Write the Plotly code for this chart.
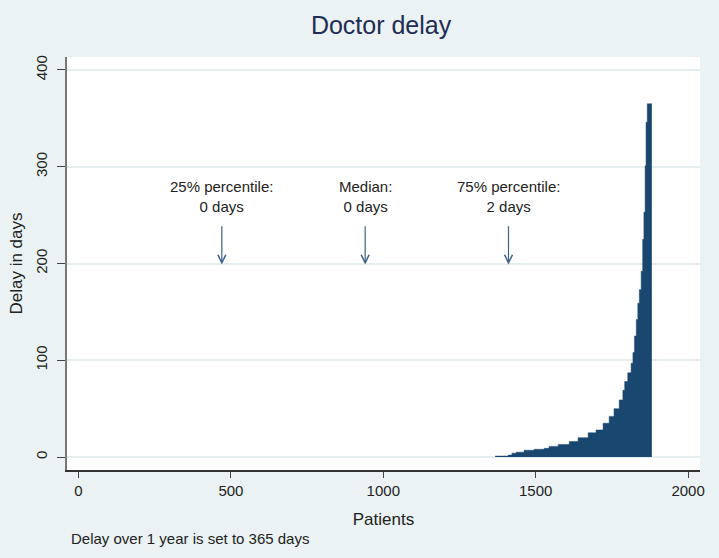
import plotly.graph_objects as go

# Sorted doctor delay per patient, stored as steps: patient index where a delay level starts
patient_from = [1367, 1410, 1422, 1436, 1462, 1495, 1528, 1544, 1574, 1610,
                1639, 1672, 1698, 1721, 1741, 1757, 1774, 1786, 1792, 1802,
                1813, 1819, 1824, 1830, 1835, 1840, 1846, 1851, 1855, 1859,
                1862, 1866]
delay_days = [1, 2, 4, 5, 7, 8, 9, 11, 13, 16,
              20, 25, 28, 35, 42, 50, 59, 69, 78, 87,
              97, 108, 125, 142, 159, 173, 192, 225, 253, 301,
              346, 365]
n_patients = 1881

quartiles = [0.25, 0.50, 0.75]
quartile_labels = ["25% percentile:<br>0 days", "Median:<br>0 days", "75% percentile:<br>2 days"]

x_ticks = [0, 500, 1000, 1500, 2000]
y_ticks = [0, 100, 200, 300, 400]

NAVY = "#1A476F"
BG = "#EAF2F3"
FONT = "Liberation Sans, Arial, sans-serif"

fig = go.Figure()

# step area; close the last step at the final patient
fig.add_trace(
    go.Scatter(
        x=patient_from + [n_patients],
        y=delay_days + [delay_days[-1]],
        mode="lines",
        line=dict(shape="hv", color=NAVY, width=0.5),
        fill="tozeroy",
        fillcolor=NAVY,
        showlegend=False,
        hoverinfo="skip",
    )
)

# percentile labels with arrows
for q, lab in zip(quartiles, quartile_labels):
    xq = q * n_patients
    fig.add_annotation(
        x=xq, y=269, xref="x", yref="y", text=lab, showarrow=False,
        font=dict(family=FONT, size=15, color="#222222"),
        align="center", yanchor="middle",
    )
    fig.add_annotation(
        x=xq, y=199, ax=xq, ay=240, xref="x", yref="y", axref="x", ayref="y",
        text="", showarrow=True, arrowhead=5, arrowsize=1.3, arrowwidth=1.2,
        arrowcolor="#3E6089",
    )

fig.add_annotation(
    x=0.003, y=-0.165, xref="paper", yref="paper", xanchor="left", yanchor="middle",
    text="Delay over 1 year is set to 365 days", showarrow=False,
    font=dict(family=FONT, size=15, color="#222222"),
)

fig.update_layout(
    width=719,
    height=558,
    paper_bgcolor=BG,
    plot_bgcolor="white",
    margin=dict(l=67, r=19, t=57, b=88),
    font=dict(family=FONT, color="#222222"),
    title=dict(
        text="Doctor delay", x=0.53, xanchor="center", y=0.955, yanchor="middle",
        font=dict(family=FONT, size=25, color="#1F2D55"),
    ),
    xaxis=dict(
        range=[-37.7, 2039],
        tickvals=x_ticks,
        ticks="outside", ticklen=6, tickcolor="#444444",
        showgrid=False, zeroline=False,
        showline=True, linecolor="#333333", linewidth=1.5,
        tickfont=dict(size=15),
        title=dict(text="Patients", font=dict(size=17), standoff=15),
    ),
    yaxis=dict(
        range=[-13.4, 413.4],
        tickvals=y_ticks,
        tickangle=-90,
        ticks="outside", ticklen=8, tickcolor="#444444",
        ticklabelstandoff=4,
        showgrid=True, gridcolor="#E6EEF0", gridwidth=1.5,
        zeroline=False,
        showline=True, linecolor="#777777", linewidth=1.5,
        tickfont=dict(size=15),
        title=dict(text="Delay in days", font=dict(size=17), standoff=6),
    ),
)

# drop the default page margin so the figure sits at the window corner
fig.write_html(
    "out.html",
    config={"displayModeBar": False},
    post_script="document.body.style.margin='0';document.body.style.background='#EAF2F3';",
)
